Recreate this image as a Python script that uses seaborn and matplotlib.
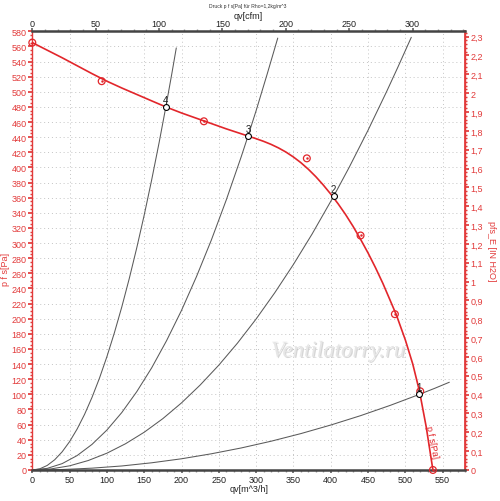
import numpy as np
import pandas as pd
import matplotlib
matplotlib.use("Agg")
import matplotlib.pyplot as plt
import matplotlib.patheffects as pe
from matplotlib.ticker import MultipleLocator, FuncFormatter
import seaborn as sns

# ---------------- data ----------------
fan_q = [0, 20, 40, 60, 80, 100, 120, 140, 160, 179, 200, 220, 240, 260, 280, 300,
         310, 320, 330, 340, 350, 360, 370, 380, 390, 400, 410, 420, 430, 440, 450,
         460, 470, 480, 488, 500, 510, 519, 528, 537]
fan_p = [565, 555, 545, 534.5, 524, 514, 505, 496.5, 488, 480, 472, 465, 458, 451, 444.5, 438,
         434.5, 430.5, 425.8, 420.3, 413.8, 406.3, 397.6, 387.8, 376.8, 364.8, 351.8, 337.6, 322, 305, 287,
         267.5, 246.5, 223.5, 205, 172, 140, 104, 57, 0]

meas_q = [0, 93, 230, 368, 440, 486, 520, 537]
meas_p = [565, 514, 461, 412, 310, 206, 104, 0]

sys1_q = [0, 40, 80, 120, 160, 200, 240, 280, 320, 360, 400, 440, 480, 519, 540, 559]
sys1_p = [0, 0.6, 2.4, 5.3, 9.5, 14.8, 21.4, 29.1, 38, 48.1, 59.4, 71.8, 85.5, 100, 108.2, 116]
sys2_q = [0, 25, 50, 75, 100, 125, 150, 175, 200, 225, 250, 275, 300, 325, 350, 375,
          404, 425, 450, 475, 490, 508]
sys2_p = [0, 1.4, 5.5, 12.5, 22.2, 34.7, 49.9, 67.9, 88.7, 112.3, 138.6, 167.7, 199.6, 234.3, 271.7, 311.9,
          362, 400.6, 449.1, 500.4, 532.5, 572]
sys3_q = [0, 20, 40, 60, 80, 100, 120, 140, 160, 180, 200, 220, 240, 260, 280, 289, 300, 315, 329]
sys3_p = [0, 2.1, 8.4, 19, 33.8, 52.8, 76, 103.5, 135, 171, 211, 255.5, 304, 357, 414, 441, 475, 524, 571]
sys4_q = [0, 10, 20, 30, 40, 50, 60, 70, 80, 90, 100, 110, 120, 130, 140, 150, 160, 170, 179, 187, 193]
sys4_p = [0, 1.5, 6, 13.5, 24, 37.5, 54, 73.4, 95.9, 121.3, 149.8, 181.3, 215.7, 253.2, 293.6, 337,
          383.5, 432.9, 480, 523.8, 558]

op_q = [519, 404, 289, 179]
op_p = [100, 362, 441, 480]
op_labels = ["1", "2", "3", "4"]

x_ticks = list(range(0, 551, 50))
cfm_ticks = list(range(0, 301, 50))
pa_ticks = list(range(0, 581, 20))
inh2o_ticks = [round(0.1 * i, 1) for i in range(0, 24)]

# ---------------- style ----------------
sns.set_theme(style="white")
plt.rcParams['font.family'] = ['Liberation Sans', 'DejaVu Sans']
RED = '#e2262b'
AXRED = '#e23a3a'
GRAY = '#5a5a5a'

fig = plt.figure(figsize=(5.0, 5.02), dpi=100)
ax = fig.add_axes([0.0646, 0.0618, 0.8654, 0.8739])
ax.set_xlim(0, 580)
ax.set_ylim(0, 580)

# grid
for v in x_ticks[1:]:
    ax.axvline(v, color='#c4c4c4', lw=0.7, ls=(0, (1, 3)), zorder=0)
for v in pa_ticks[1:]:
    ax.axhline(v, color='#c4c4c4', lw=0.7, ls=(0, (1, 3)), zorder=0)

# watermark
ax.text(410, 157, "Ventilatorry.ru", fontsize=16.5, style='italic', family='Liberation Serif',
        color='#e6e6e6', ha='center', va='center', zorder=1,
        path_effects=[pe.withSimplePatchShadow(offset=(0.8, -0.8), shadow_rgbFace='#cccccc', alpha=0.8)])

# system curves
for q, p in [(sys1_q, sys1_p), (sys2_q, sys2_p), (sys3_q, sys3_p), (sys4_q, sys4_p)]:
    sns.lineplot(x=q, y=p, ax=ax, color=GRAY, lw=0.75, estimator=None, sort=False, zorder=2)

# fan curve
sns.lineplot(x=fan_q, y=fan_p, ax=ax, color=RED, lw=1.2, estimator=None, sort=False, zorder=3)

# measured points (circle with centre dot)
sns.scatterplot(x=meas_q, y=meas_p, ax=ax, s=24, marker='o', facecolor='none',
                edgecolor=RED, linewidth=0.9, zorder=4, clip_on=False)
sns.scatterplot(x=meas_q, y=meas_p, ax=ax, s=2, marker='o', color=RED,
                edgecolor=RED, linewidth=0.3, zorder=4, clip_on=False)

# operating points
sns.scatterplot(x=op_q, y=op_p, ax=ax, s=18, marker='o', facecolor='white',
                edgecolor='black', linewidth=0.8, zorder=5)
for q, p, t in zip(op_q, op_p, op_labels):
    ax.annotate(t, (q, p), xytext=(0, 1.5), textcoords='offset points', ha='center',
                va='bottom', fontsize=7, color='#222222', zorder=6)

# curve label
ax.text(536, 38, "p f s[Pa]", rotation=-78, ha='center', va='center',
        fontsize=6.5, color=RED, zorder=6)

# spines
for s in ['top', 'bottom']:
    ax.spines[s].set_color('#444444')
    ax.spines[s].set_linewidth(1.8)
for s in ['left', 'right']:
    ax.spines[s].set_color(AXRED)
    ax.spines[s].set_linewidth(1.0)

# bottom axis
ax.set_xticks(x_ticks)
ax.xaxis.set_minor_locator(MultipleLocator(10))
ax.tick_params(axis='x', which='major', labelsize=6.5, length=2, color='#666666', pad=1.5, labelcolor='#222222')
ax.tick_params(axis='x', which='minor', length=1.2, color='#999999')
ax.set_xlabel("qv[m^3/h]", fontsize=6.5, color='#222222', labelpad=0)

# left axis
ax.set_yticks(pa_ticks)
ax.yaxis.set_minor_locator(MultipleLocator(5))
ax.tick_params(axis='y', which='major', labelsize=6.5, length=3, color=AXRED, labelcolor=AXRED, pad=1)
ax.tick_params(axis='y', which='minor', length=1.5, color=AXRED)
ax.tick_params(axis='both', which='both', left=True, bottom=True, direction='out')
ax.set_ylabel("p f s[Pa]", fontsize=6.5, color=AXRED)
ax.yaxis.set_label_coords(-0.052, 0.46)

# top axis (cfm)
M3H_PER_CFM = 1.699
top = ax.secondary_xaxis('top', functions=(lambda q: q / M3H_PER_CFM, lambda c: c * M3H_PER_CFM))
top.set_xticks(cfm_ticks)
top.xaxis.set_minor_locator(MultipleLocator(10))
top.tick_params(axis='x', which='major', labelsize=6.5, length=2, color='#666666', pad=0.5, labelcolor='#222222')
top.tick_params(axis='x', which='minor', length=1.2, color='#999999')
top.set_xlabel("qv[cfm]", fontsize=6.5, color='#222222', labelpad=0.5)
top.spines['top'].set_visible(False)

# right axis (inch H2O)
PA_PER_INH2O = 249.089
right = ax.secondary_yaxis('right', functions=(lambda p: p / PA_PER_INH2O, lambda w: w * PA_PER_INH2O))
right.set_yticks(inh2o_ticks)
right.yaxis.set_major_formatter(FuncFormatter(lambda v, _: ('%g' % round(v, 1)).replace('.', ',')))
right.yaxis.set_minor_locator(MultipleLocator(0.02))
right.tick_params(axis='y', which='major', labelsize=6.5, length=3, color=AXRED, labelcolor=AXRED, pad=1)
right.tick_params(axis='y', which='minor', length=1.5, color=AXRED)
right.spines['right'].set_color(AXRED)
right.set_ylabel("pfs_E [IN H2O]", fontsize=6.5, color=AXRED, rotation=270, labelpad=9)

fig.text(0.496, 0.992, "Druck p f s[Pa] für Rho=1,2kg/m^3", fontsize=3.6, ha='center', va='top', color='#333333')

fig.savefig("out.png", dpi=100)
